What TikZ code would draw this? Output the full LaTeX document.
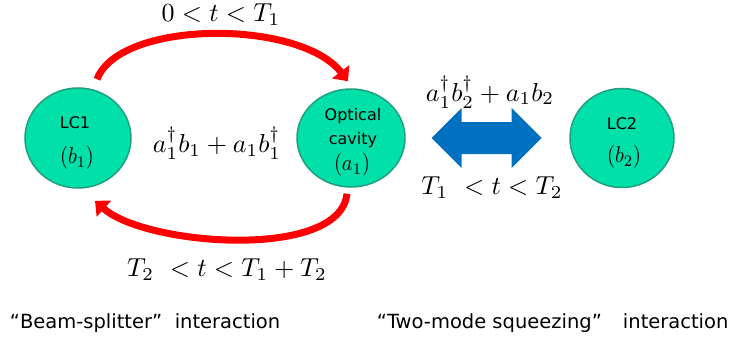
\documentclass[tikz,border=0pt]{standalone}
\usepackage{amsmath}
\usepackage{fontspec}
\newfontfamily\labelfont{DejaVu Sans}
\usepackage{tikz}
\usetikzlibrary{arrows.meta,shapes.geometric,calc}
\definecolor{modegreen}{RGB}{0,224,168}
\definecolor{modeedge}{RGB}{32,160,128}
\definecolor{swapblue}{RGB}{0,112,192}

\begin{document}
\begin{tikzpicture}[x=1pt,y=1pt,
  mode/.style={ellipse,draw=modeedge,line width=1.5pt,fill=modegreen,
               inner sep=0pt},
  modename/.style={font=\labelfont\fontsize{16}{24}\selectfont,align=center},
  modeop/.style={xscale=2.05,yscale=2.3,transform shape},
  redarr/.style={-{Triangle[length=12pt,width=21pt]},line width=7pt,red},
  eq/.style={scale=2.6,transform shape},
  caption/.style={font=\labelfont\fontsize{19.5}{24}\selectfont,anchor=base west}
]
\useasboundingbox (0,0) rectangle (729,341);

% Modes
\node[mode,minimum width=106pt,minimum height=100pt] (lc1) at (78,203) {};
\node[mode,minimum width=108pt,minimum height=98pt] (cav) at (351,203) {};
\node[mode,minimum width=104pt,minimum height=99pt] (lc2) at (622,203) {};

\node[modename] (lc1name) at (75,218) {LC1};
\node[modeop] (lc1op) at (77,183) {$(b_1)$};
\node[modename] (cavname) at (353,213) {Optical\\cavity};
\node[modeop] (cavop) at (352,176) {$(a_1)$};
\node[modename] (lc2name) at (622,217) {LC2};
\node[modeop] (lc2op) at (624,184) {$(b_2)$};

% Beam-splitter swap LC1 <-> cavity
\draw[redarr] ([xshift=19pt,yshift=8pt]lc1.north)
  .. controls +(23,60) and +(-48,62) .. ([xshift=-3pt,yshift=7pt]cav.north);
\draw[redarr] ([xshift=-4pt,yshift=-6pt]cav.south)
  .. controls +(-7,-67) and +(50,-45) .. ([xshift=17pt,yshift=-12pt]lc1.south);

\node[eq] (bstime) at (221,326) {$0<t<T_1$};
\node[eq] (bsham)  at (217,198) {$a_1^\dagger b_1 + a_1 b_1^\dagger$};
\node[eq] (bsback) at (227,71)  {$T_2\ <t<T_1+T_2$};

% Two-mode squeezing cavity <-> LC2
\coordinate (mid) at ($(cav)!0.5!(lc2)$);
\fill[swapblue] (mid) ++(-55,0) -- ++(30,30) -- ++(0,-14) -- ++(50,0)
  -- ++(0,14) -- ++(30,-30) -- ++(-30,-30) -- ++(0,14) -- ++(-50,0)
  -- ++(0,-14) -- cycle;

\node[eq] (tmsham)  at (490,249) {$a_1^\dagger b_2^\dagger + a_1 b_2$};
\node[eq] (tmstime) at (492,153) {$T_1\ <t<T_2$};

% Captions
\node[caption] (bscap) at (-3,13)
  {\makebox[1em][r]{“}Beam-splitter\makebox[1em][l]{”}\,interaction};
\node[caption] (tmscap) at (364,13)
  {\makebox[1em][r]{“}Two-mode squeezing\makebox[1em][l]{”}\hspace{.6em}interaction};

\end{tikzpicture}
\end{document}
